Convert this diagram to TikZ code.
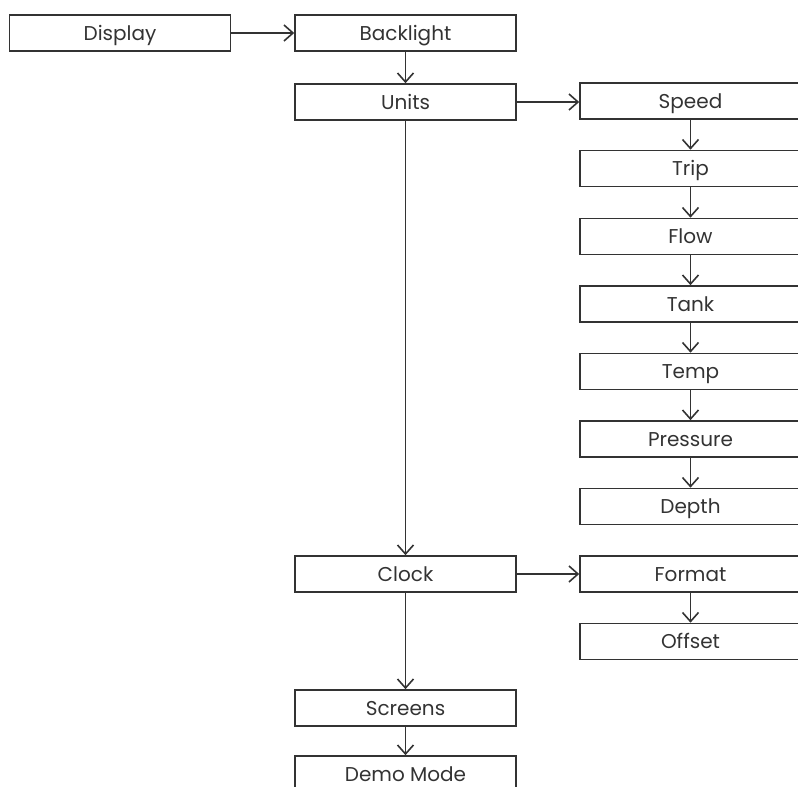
\documentclass[tikz,border=0pt]{standalone}
\usepackage{fontspec}
\setmainfont{Poppins}
\usepackage{xcolor}
\usetikzlibrary{arrows.meta}
\definecolor{ink}{HTML}{333333}

\tikzset{
    menubox/.style={draw=ink, line width=1.6pt, rectangle, minimum width=221pt, minimum height=36pt,
        inner sep=0pt, text height=15pt, text depth=1pt, text=ink, font=\fontsize{20}{22}\selectfont},
    menuarrow/.style={draw=ink, line width=1.6pt, -{Straight Barb[length=9pt, width=16pt, line width=1.6pt]}}
}

\begin{document}
\begin{tikzpicture}[x=1pt, y=-1pt]
    \useasboundingbox (0,0) rectangle (798,787);
    \clip (0,0) rectangle (798,787);

    % Define nodes
    \node[menubox] (display) at (120,33) {Display};
    \node[menubox] (backlight) at (405.5,33) {Backlight};
    \node[menubox] (units) at (405.5,102) {Units};
    \node[menubox] (clock) at (405.5,574) {Clock};
    \node[menubox] (screens) at (405.5,708) {Screens};
    \node[menubox] (demo) at (405.5,774) {Demo Mode};

    \node[menubox] (speed) at (690.5,101) {Speed};
    \node[menubox] (trip) at (690.5,168.5) {Trip};
    \node[menubox] (flow) at (690.5,236.5) {Flow};
    \node[menubox] (tank) at (690.5,304) {Tank};
    \node[menubox] (temp) at (690.5,371.5) {Temp};
    \node[menubox] (pressure) at (690.5,439) {Pressure};
    \node[menubox] (depth) at (690.5,506.5) {Depth};

    \node[menubox] (format) at (690.5,574) {Format};
    \node[menubox] (offset) at (690.5,641.5) {Offset};

    % Define connections
    \draw[menuarrow] (display) -- (backlight);
    \draw[menuarrow] (backlight) -- (units);
    \draw[menuarrow] (units) -- (units -| speed.west);
    \draw[menuarrow] (units) -- (clock);
    \draw[menuarrow] (clock) -- (format);
    \draw[menuarrow] (clock) -- (screens);
    \draw[menuarrow] (screens) -- (demo);

    \draw[menuarrow] (speed) -- (trip);
    \draw[menuarrow] (trip) -- (flow);
    \draw[menuarrow] (flow) -- (tank);
    \draw[menuarrow] (tank) -- (temp);
    \draw[menuarrow] (temp) -- (pressure);
    \draw[menuarrow] (pressure) -- (depth);
    \draw[menuarrow] (format) -- (offset);
\end{tikzpicture}
\end{document}
